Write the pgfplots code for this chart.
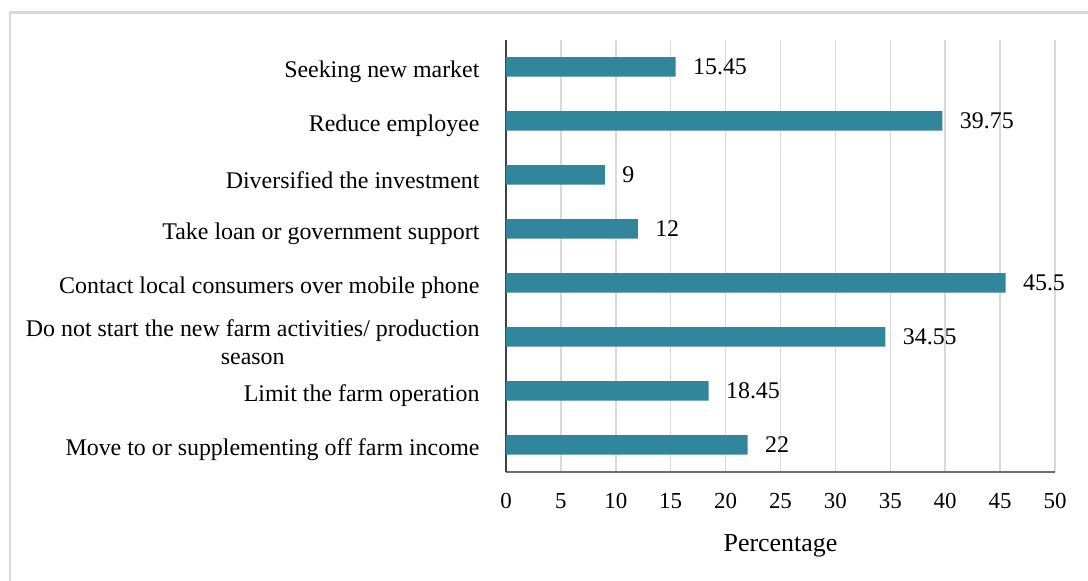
\documentclass[border=0pt]{standalone}
\usepackage{pgfplots}
\pgfplotsset{compat=1.18}
\usepackage{pgfplotstable}
\usepackage{fontspec}
\setmainfont{Liberation Serif}
\definecolor{barteal}{RGB}{49,134,155}
\definecolor{gridgray}{RGB}{217,217,217}
\definecolor{framegray}{RGB}{217,217,217}
\pgfplotstableread[col sep=comma]{
y,val,lab
0,22,22
1,18.45,18.45
2,34.55,34.55
3,45.5,45.5
4,12,12
5,9,9
6,39.75,39.75
7,15.45,15.45
}\datatable
\begin{document}
\begin{tikzpicture}[x=1bp,y=1bp]
\begin{axis}[
  scale only axis, width=549bp, height=432bp,
  xmin=0, xmax=50, ymin=-0.5, ymax=7.5,
  xtick={0,5,...,50},
  ytick={0,...,7},
  yticklabels={Move to or supplementing off farm income,
    Limit the farm operation,
    {Do not start the new farm activities/ production\\season},
    Contact local consumers over mobile phone,
    Take loan or government support,
    Diversified the investment,
    Reduce employee,
    Seeking new market},
  yticklabel style={align=center, font=\fontsize{24}{28}\selectfont, xshift=-23bp, yshift=-5bp},
  xticklabel style={font=\fontsize{23}{25}\selectfont, yshift=-18bp},
  /pgf/number format/assume math mode=true,
  xlabel={Percentage},
  xlabel style={font=\fontsize{26}{28}\selectfont, yshift=-19bp},
  major tick length=0pt,
  xmajorgrids,
  grid style={gridgray, line width=1.5bp},
  axis x line*=bottom,
  axis y line*=left,
  x axis line style={draw=gray!85!black, line width=1.3bp, -},
  y axis line style={draw=black!75, line width=1.3bp, -},
  xbar,
  bar width=19.5bp,
  nodes near coords,
  point meta=explicit symbolic,
  nodes near coords style={font=\fontsize{24}{26}\selectfont, anchor=west, xshift=14bp},
]
\addplot[fill=barteal, draw=none] table[x=val, y=y, meta=lab] {\datatable};
\coordinate (LL) at (rel axis cs:0,0);
\end{axis}
\pgfresetboundingbox
\path[use as bounding box] ([shift={(-506,-109)}]LL) rectangle ([shift={(582,472)}]LL);
\draw[framegray, line width=2.2bp] ([shift={(-496,-109)}]LL) -- ([shift={(-496,459.5)}]LL) -- ([shift={(582,459.5)}]LL);
\end{tikzpicture}
\end{document}
